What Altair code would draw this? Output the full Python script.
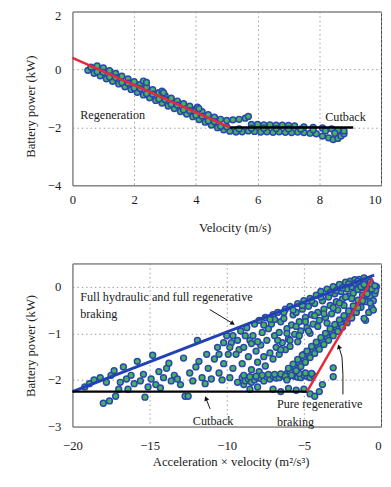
import altair as alt
import pandas as pd

FONT = "Liberation Serif, Times New Roman, serif"
FILL = "#46b45a"
EDGE = "#2a44b0"
BLUE = "#2340b4"
RED = "#e8283a"

# ---------------- Top panel: battery power vs velocity ----------------
lower_v = [0.5, 0.7, 0.9, 1.1, 1.3, 1.5, 1.7, 1.9, 2.1, 2.3, 2.5, 2.7, 2.9, 3.1, 3.3, 3.5, 3.7, 3.9, 4.1, 4.3, 4.5, 4.7, 4.9, 5.1, 5.3,
           0.8, 1.2, 1.6, 2.0, 2.4, 2.8, 3.2, 3.6, 4.0, 4.4, 4.8]
lower_p = [-0.03, -0.13, -0.22, -0.32, -0.41, -0.5, -0.6, -0.69, -0.79, -0.88, -0.98, -1.07, -1.16, -1.26, -1.35, -1.45, -1.54, -1.63, -1.73, -1.82, -1.92, -2.01, -2.08, -2.13, -2.15,
           -0.08, -0.26, -0.45, -0.64, -0.83, -1.02, -1.2, -1.39, -1.58, -1.77, -1.96]
upper_v = [0.8, 1.0, 1.2, 1.4, 1.6, 1.8, 2.0, 2.2, 2.4, 2.6, 2.8, 3.0, 3.2, 3.4, 3.6, 3.8, 4.0, 4.2, 4.4, 4.6, 4.8, 5.0, 5.2, 5.4, 5.6, 5.7]
upper_p = [0.12, 0.05, -0.04, -0.14, -0.23, -0.33, -0.42, -0.52, -0.61, -0.7, -0.8, -0.9, -0.99, -1.09, -1.18, -1.27, -1.37, -1.46, -1.56, -1.65, -1.72, -1.76, -1.74, -1.72, -1.68, -1.62]
mid_v = [0.6, 1.0, 1.4, 1.8, 2.2, 2.6, 3.0, 3.4, 3.8, 4.2, 4.6, 5.0, 2.3, 2.4, 2.9, 2.95, 4.05, 4.1]
mid_p = [0.08, -0.1, -0.28, -0.47, -0.66, -0.85, -1.04, -1.23, -1.42, -1.61, -1.8, -1.98, -0.4, -0.45, -0.75, -0.8, -1.3, -1.35]
flat_v = [5.3, 5.5, 5.7, 5.9, 6.1, 6.3, 6.5, 6.7, 6.9, 7.1, 7.3, 7.5, 7.7, 7.9, 8.1, 8.3, 8.45, 8.6, 8.7, 8.8, 8.8,
          5.8, 6.0, 6.2, 6.4, 6.6, 6.8, 7.0, 7.2, 7.5, 7.8, 8.1, 8.4, 8.6,
          5.4, 5.8, 6.2, 6.6, 7.0, 7.4, 7.8, 8.2, 8.5]
flat_p = [-2.15, -2.15, -2.12, -2.14, -2.16, -2.15, -2.17, -2.15, -2.17, -2.18, -2.16, -2.18, -2.2, -2.22, -2.3, -2.36, -2.42, -2.38, -2.3, -2.22, -2.12,
          -1.9, -1.9, -1.91, -1.91, -1.92, -1.92, -1.93, -1.95, -1.98, -2.0, -2.02, -2.05, -2.1,
          -2.05, -2.03, -2.03, -2.04, -2.05, -2.06, -2.08, -2.12, -2.2]
reg_v = [0.0, 5.1]
reg_p = [0.4, -2.0]
cut_v = [5.1, 9.1]
cut_p = [-2.0, -2.0]
top_labels = ["Regeneration", "Cutback"]
top_label_v = [0.25, 8.19]
top_label_p = [-1.57, -1.63]

# ---------------- Bottom panel: battery power vs acceleration x velocity ----------------
sparse_av = [-19.2, -18.9, -18.6, -18.2, -18.0, -17.8, -17.6, -17.5, -17.3, -17.2, -17.0, -16.9, -16.7, -16.5, -16.4, -16.2,
             -16.0, -15.8, -15.6, -15.4, -15.3, -15.1, -14.9, -14.8, -14.6, -14.4, -14.3, -14.1, -13.9, -13.75, -13.6, -13.4,
             -13.2, -13.0, -12.8, -12.7, -12.5, -12.4, -12.2, -12.0, -11.9, -11.8, -11.6, -11.4, -11.3, -11.2, -11.0, -10.8,
             -10.6, -10.5, -10.3, -10.2, -10.0, -9.9, -9.8, -9.7, -9.6, -9.3, -9.2, -8.9]
sparse_p = [-2.15, -2.08, -2.0, -1.95, -2.5, -2.05, -2.45, -1.9, -1.8, -2.35, -2.2, -2.05, -1.72, -1.98, -2.2, -1.9,
            -2.08, -1.6, -2.02, -1.88, -2.37, -2.15, -1.98, -1.47, -2.1, -1.82, -2.17, -1.95, -1.75, -1.64, -2.02, -1.9,
            -1.98, -2.1, -1.53, -2.35, -2.35, -1.85, -2.02, -1.72, -1.15, -1.6, -1.95, -2.08, -1.45, -1.75, -1.98, -1.55,
            -1.3, -1.85, -2.0, -1.65, -1.05, -1.45, -1.95, -1.2, -1.75, -2.05, -1.35, -2.1]

cloud_av = [-9.6, -9.4, -9.1, -8.9, -9.0, -8.7, -8.5, -8.6, -8.4, -8.2, -8.3, -8.1, -8.0, -7.9, -7.7, -7.8, -7.6, -7.9,
            -7.5, -7.3, -7.4, -7.2, -7.5, -7.0, -7.1, -6.9, -6.8, -7.0, -6.7, -6.5, -6.6, -6.4, -6.6, -6.2, -6.3, -6.1,
            -6.0, -6.2, -5.9, -5.7, -5.8, -5.6, -5.9, -5.4, -5.5, -5.3, -5.2, -5.4, -5.0, -5.1, -4.9, -4.8, -5.0, -4.6,
            -4.7, -4.5, -4.4, -4.6, -4.2, -4.3, -4.1, -4.0, -3.9, -3.8, -3.7, -3.6, -3.5, -3.4, -3.3, -3.2, -3.1, -3.0,
            -2.9, -2.8, -2.7, -2.6, -2.5, -2.4, -2.3, -2.2, -2.1, -2.0, -1.9, -1.8, -1.7, -1.6, -1.5, -1.4, -1.3, -1.2,
            -1.1, -1.0, -0.9]
cloud_p = [-1.05, -1.45, -0.95, -1.3, -1.65, -0.88, -1.15, -1.5, -1.78, -0.8, -1.05, -1.38, -1.62, -0.72, -0.98, -1.25, -1.5, -1.82,
           -0.66, -0.9, -1.15, -1.42, -1.7, -0.6, -0.8, -1.05, -1.3, -1.55, -0.55, -0.75, -0.98, -1.2, -1.45, -0.48, -0.68, -0.9,
           -1.12, -1.35, -0.42, -0.6, -0.82, -1.02, -1.28, -0.36, -0.55, -0.75, -0.95, -1.18, -0.3, -0.48, -0.66, -0.88, -1.45, -0.25,
           -0.42, -0.6, -0.8, -1.0, -0.18, -0.36, -0.55, -0.72, -0.1, -0.3, -0.48, -0.66, -0.05, -0.22, -0.4, -0.58, 0.0, -0.15,
           -0.32, -0.5, 0.05, -0.1, -0.26, -0.4, 0.1, -0.05, -0.2, 0.12, 0.0, -0.14, 0.15, 0.04, -0.06, 0.16, 0.08, -0.02,
           0.19, 0.12, 0.05]
cloud2_av = [-6.9, -6.7, -6.5, -6.3, -6.1, -5.9, -5.7, -5.5, -5.3, -5.1, -4.9, -4.7, -4.5, -4.3, -4.1, -3.9, -3.7, -3.5,
             -3.3, -3.1, -2.9, -2.7, -2.5, -2.3, -2.1, -1.9, -1.7, -1.5, -1.3, -1.1, -0.8, -0.7, -8.0, -7.6, -7.2, -8.8,
             -8.4, -9.3, -9.8, -10.2, -10.5]
cloud2_p = [-0.7, -1.15, -1.35, -0.55, -1.0, -1.15, -0.5, -0.85, -1.05, -0.4, -0.75, -0.95, -0.3, -0.62, -0.85, -0.22, -0.58, -0.78,
            -0.12, -0.45, -0.08, -0.35, -0.02, -0.22, 0.06, -0.25, 0.08, 0.12, 0.0, 0.05, 0.15, 0.1, -1.18, -0.82, -0.7, -1.05,
            -1.22, -1.15, -1.3, -1.2, -1.45]

hband_av = [-9.0, -8.8, -8.6, -8.4, -8.2, -8.0, -7.8, -7.6, -7.4, -7.2, -7.0, -6.8, -6.6, -6.4, -6.2, -6.0, -5.8, -5.6, -5.4, -5.2,
            -5.0, -4.8, -4.6, -4.4,
            -8.9, -8.5, -8.1, -7.7, -7.3, -6.9, -6.5, -6.1, -5.7, -5.3, -4.9, -4.5,
            -7.0, -6.5, -6.0, -5.5, -5.0, -4.6, -4.3, -4.0, -3.8, -8.5, -8.0]
hband_p = [-1.95, -2.02, -1.98, -2.05, -2.0, -1.95, -1.97, -2.02, -1.93, -1.98, -1.92, -1.96, -1.95, -1.9, -1.94, -1.93, -1.9, -1.92,
           -1.94, -1.95, -1.9, -1.92, -1.95, -1.9,
           -1.9, -1.93, -1.92, -1.9, -1.88, -1.88, -1.87, -1.86, -1.85, -1.86, -1.85, -1.86,
           -2.2, -2.25, -2.18, -2.22, -2.2, -2.3, -2.35, -2.25, -2.1, -2.2, -2.15]

cband_av = [-6.2, -5.9, -5.6, -5.3, -5.0, -4.7, -4.4, -4.1, -3.8, -3.5, -3.2, -2.9, -2.6, -2.3, -2.0, -1.7, -1.4, -1.1, -0.8, -0.5,
            -6.0, -5.7, -5.4, -5.1, -4.8, -4.5, -4.2, -3.9, -3.6, -3.3, -3.0, -2.7, -2.4, -2.1, -1.8, -1.5, -1.2, -0.9, -0.6,
            -6.1, -5.8, -5.5, -5.2, -4.9, -4.6, -4.3, -4.0, -3.7, -3.4, -3.1, -2.8, -2.5, -2.2, -1.9, -1.6, -1.3, -1.0, -0.7]
cband_p = [-1.92, -1.82, -1.73, -1.64, -1.54, -1.45, -1.35, -1.26, -1.16, -1.07, -0.97, -0.88, -0.79, -0.69, -0.59, -0.47, -0.36, -0.24, -0.12, 0.0,
           -1.75, -1.66, -1.56, -1.47, -1.38, -1.28, -1.19, -1.09, -1.0, -0.9, -0.81, -0.71, -0.62, -0.52, -0.41, -0.29, -0.18, -0.06, 0.05,
           -2.0, -1.9, -1.8, -1.71, -1.62, -1.52, -1.43, -1.34, -1.24, -1.15, -1.05, -0.96, -0.87, -0.77, -0.67, -0.55, -0.44, -0.32, -0.2]

right_av = [-1.0, -1.1, -0.5, -0.4, -0.3, -0.35, -0.6, -0.8, -0.7, -0.5, -3.1, -3.1, -1.5, -1.2, -0.9, -0.6, -0.4]
right_p = [-0.72, -0.68, -0.3, -0.15, 0.0, -0.08, -0.45, -0.55, -0.35, -0.5, -1.74, -1.93, -0.45, -0.3, -0.15, -0.05, 0.02]

full_av = [-20.0, -0.45]
full_p = [-2.25, 0.25]
cutb_av = [-20.0, -4.8]
cutb_p = [-2.25, -2.25]
pure_av = [-4.8, -0.55]
pure_p = [-2.25, 0.18]

bot_labels = ["Full hydraulic and full regenerative", "braking", "Cutback", "Pure regenerative", "braking"]
bot_label_av = [-19.5, -19.5, -12.2, -6.75, -6.75]
bot_label_p = [-0.23, -0.58, -2.88, -2.52, -2.9]

arrow_id = [1, 1, 2, 2, 3, 3, 3, 3]
arrow_av = [-11.1, -9.65, -11.08, -11.33, -2.47, -2.47, -2.53, -2.72]
arrow_p = [-0.49, -0.78, -2.62, -2.41, -2.31, -1.89, -1.51, -1.30]
head_av = [-9.65, -11.33, -2.72]
head_p = [-0.78, -2.41, -1.30]
head_angle = [121, 338, 343]

# ---------------- build charts ----------------
def xs_top(field):
    return alt.X(field, type="quantitative", scale=alt.Scale(domain=[0, 10], nice=False, zero=False),
                 axis=alt.Axis(values=[0, 2, 4, 6, 8, 10], title="Velocity (m/s)", labelPadding=9,
                               labelAlign={"condition": {"test": "datum.value == 10", "value": "right"}, "value": "center"},
                               titleX=166, titleY=43, titleBaseline="middle"))

def ys_top(field):
    return alt.Y(field, type="quantitative", scale=alt.Scale(domain=[-4, 2], nice=False, zero=False),
                 axis=alt.Axis(values=[-4, -2, 0, 2], title="Battery power (kW)", labelPadding=12,
                               labelOffset={"condition": {"test": "datum.value == 2", "value": 4}, "value": 0},
                               titleX=-43, titleY=97, titleBaseline="middle"))

def xs_bot(field):
    return alt.X(field, type="quantitative", scale=alt.Scale(domain=[-20, 0], nice=False, zero=False),
                 axis=alt.Axis(values=[-20, -15, -10, -5, 0], title="Acceleration × velocity (m²/s³)", labelPadding=14,
                               labelAlign={"condition": {"test": "datum.value == 0", "value": "right"}, "value": "center"},
                               titleX=162, titleY=36, titleBaseline="middle"))

def ys_bot(field):
    return alt.Y(field, type="quantitative", scale=alt.Scale(domain=[-3, 0.5], nice=False, zero=False),
                 axis=alt.Axis(values=[-3, -2, -1, 0], title="Battery power (kW)", labelPadding=12,
                               titleX=-43, titleY=84, titleBaseline="middle"))

pt_style = dict(size=36, fill=FILL, stroke=EDGE, strokeWidth=1.5, opacity=1, fillOpacity=1)
txt_style = dict(align="left", baseline="middle", font=FONT, fontSize=12.5, color="#1a1a1a")

top_df = pd.DataFrame({"v": lower_v + upper_v + mid_v + flat_v, "p": lower_p + upper_p + mid_p + flat_p})
top_pts = alt.Chart(top_df).mark_circle(**pt_style).encode(x=xs_top("v"), y=ys_top("p"))
top_reg = alt.Chart(pd.DataFrame({"v": reg_v, "p": reg_p})).mark_line(color=RED, strokeWidth=2.5).encode(
    x=xs_top("v"), y=ys_top("p"))
top_cut = alt.Chart(pd.DataFrame({"v": cut_v, "p": cut_p})).mark_line(color="black", strokeWidth=2.5).encode(
    x=xs_top("v"), y=ys_top("p"))
top_txt = alt.Chart(pd.DataFrame({"v": top_label_v, "p": top_label_p, "t": top_labels})).mark_text(**txt_style).encode(
    x=xs_top("v"), y=ys_top("p"), text="t:N")
top = alt.layer(top_pts, top_reg, top_cut, top_txt).properties(width=316, height=178)

bot_df = pd.DataFrame({"av": sparse_av + cloud_av + cloud2_av + hband_av + cband_av + right_av,
                       "p": sparse_p + cloud_p + cloud2_p + hband_p + cband_p + right_p})
bot_pts = alt.Chart(bot_df).mark_circle(**pt_style).encode(x=xs_bot("av"), y=ys_bot("p"))
bot_full = alt.Chart(pd.DataFrame({"av": full_av, "p": full_p})).mark_line(color=BLUE, strokeWidth=3).encode(
    x=xs_bot("av"), y=ys_bot("p"))
bot_cutb = alt.Chart(pd.DataFrame({"av": cutb_av, "p": cutb_p})).mark_line(color="black", strokeWidth=2.5).encode(
    x=xs_bot("av"), y=ys_bot("p"))
bot_pure = alt.Chart(pd.DataFrame({"av": pure_av, "p": pure_p})).mark_line(color=RED, strokeWidth=2.5).encode(
    x=xs_bot("av"), y=ys_bot("p"))
arr_df = pd.DataFrame({"id": arrow_id, "av": arrow_av, "p": arrow_p, "o": list(range(len(arrow_id)))})
bot_arr = alt.Chart(arr_df).mark_line(color="#111", strokeWidth=1).encode(
    x=xs_bot("av"), y=ys_bot("p"), detail="id:N", order="o:Q")
bot_head = alt.Chart(pd.DataFrame({"av": head_av, "p": head_p, "a": head_angle})).mark_point(
    shape="triangle", filled=True, color="#111", size=28, opacity=1).encode(
    x=xs_bot("av"), y=ys_bot("p"), angle=alt.Angle("a:Q", scale=None))
bot_txt = alt.Chart(pd.DataFrame({"av": bot_label_av, "p": bot_label_p, "t": bot_labels})).mark_text(**txt_style).encode(
    x=xs_bot("av"), y=ys_bot("p"), text="t:N")
bottom = alt.layer(bot_pts, bot_full, bot_cutb, bot_pure, bot_arr, bot_head, bot_txt).properties(width=316, height=167)

chart = alt.vconcat(top, bottom, spacing=80, bounds="flush").properties(
    padding={"left": 16, "top": -5, "right": 0, "bottom": 0}
).configure_view(stroke="#444", strokeWidth=1).configure_axis(
    domain=False, ticks=False, grid=True, gridColor="#9a9a9a", gridDash=[1.5, 3], gridWidth=1,
    labelFont=FONT, labelFontSize=13, labelColor="#1a1a1a",
    titleFont=FONT, titleFontSize=13, titleFontWeight="normal", titleColor="#1a1a1a"
)

chart.save("out.html", embed_options={"renderer": "svg", "actions": False})
